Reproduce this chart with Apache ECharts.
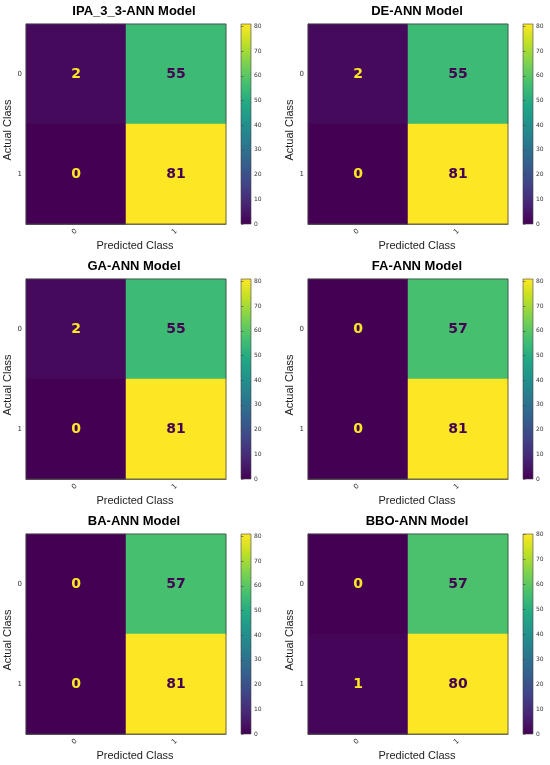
<!DOCTYPE html>
<html>
<head>
<meta charset="utf-8">
<script src="https://cdn.jsdelivr.net/npm/echarts@6/dist/echarts.min.js"></script>
<style>
    html, body {
        margin: 0;
        padding: 0;
        background: #fff;
    }

    #chart {
        width: 550px;
        height: 765px;
    }
</style>
</head>
<body>
<div id="chart"></div>
<script>
    // data
    var modelNames = ['IPA_3_3-ANN Model', 'DE-ANN Model', 'GA-ANN Model', 'FA-ANN Model', 'BA-ANN Model', 'BBO-ANN Model'];
    var classLabels = ['0', '1'];
    // rows = actual class, columns = predicted class
    var ipaMatrix = [[2, 55], [0, 81]];
    var deMatrix = [[2, 55], [0, 81]];
    var gaMatrix = [[2, 55], [0, 81]];
    var faMatrix = [[0, 57], [0, 81]];
    var baMatrix = [[0, 57], [0, 81]];
    var bboMatrix = [[0, 57], [1, 80]];
    var colorbarTicks = [0, 10, 20, 30, 40, 50, 60, 70, 80];

    var matrices = [ipaMatrix, deMatrix, gaMatrix, faMatrix, baMatrix, bboMatrix];

    // viridis
    var viridis = ['#440154', '#482475', '#414487', '#355f8d', '#2a788e', '#21918c',
        '#22a884', '#44bf70', '#7ad151', '#bddf26', '#fde725'];

    // layout
    var colLeft = [26, 308];
    var rowTop = [24, 279, 534];
    var plotSize = 200;
    var cbOffset = 215;
    var cbWidth = 10;
    var titleX = [134, 417];
    var fontSans = 'Liberation Sans';

    var myChart = echarts.init(document.getElementById('chart'));

    var grids = [], xAxes = [], yAxes = [], series = [], visualMaps = [], titles = [];

    var cbStops = viridis.slice().reverse().map(function (c, k) {
      return {offset: k / (viridis.length - 1), color: c};
    });

    matrices.forEach(function (m, i) {
      var col = i % 2;
      var row = Math.floor(i / 2);
      var left = colLeft[col];
      var top = rowTop[row];
      var all = m[0].concat(m[1]);
      var vmax = Math.max.apply(null, all);
      var vmin = Math.min.apply(null, all);
      var thresh = (vmax + vmin) / 2;

      titles.push({
        text: modelNames[i],
        left: titleX[col],
        top: top - 19,
        textAlign: 'center',
        padding: 0,
        textStyle: {fontSize: 13, fontWeight: 'bold', fontFamily: fontSans, color: '#000'}
      });

      // heatmap grid
      grids.push({
        left: left, top: top, width: plotSize, height: plotSize,
        show: true, z: 10,
        backgroundColor: 'transparent',
        borderColor: '#444', borderWidth: 0.8
      });
      // colorbar grid
      grids.push({
        left: left + cbOffset, top: top, width: cbWidth, height: plotSize,
        show: true,
        backgroundColor: {type: 'linear', x: 0, y: 0, x2: 0, y2: 1, colorStops: cbStops},
        borderColor: '#444', borderWidth: 0.6
      });

      xAxes.push({
        gridIndex: 2 * i,
        type: 'category',
        data: classLabels,
        name: 'Predicted Class',
        nameLocation: 'middle',
        nameGap: 16,
        nameTextStyle: {fontSize: 11, fontFamily: fontSans, color: '#222', padding: [0, 0, 0, 18]},
        axisLine: {lineStyle: {color: '#444', width: 0.8}},
        axisTick: {alignWithLabel: true, length: 3, lineStyle: {color: '#444', width: 0.6}},
        axisLabel: {rotate: 45, fontSize: 7, margin: 6, color: '#333', fontFamily: 'DejaVu Sans'},
        splitLine: {show: false}
      });
      xAxes.push({
        gridIndex: 2 * i + 1,
        type: 'value', show: false, min: 0, max: 1
      });

      yAxes.push({
        gridIndex: 2 * i,
        type: 'category',
        data: classLabels,
        inverse: true,
        name: 'Actual Class',
        nameLocation: 'middle',
        nameRotate: 90,
        nameGap: 11,
        nameTextStyle: {fontSize: 11, fontFamily: fontSans, color: '#222', padding: [0, 12, 0, 0]},
        axisLine: {lineStyle: {color: '#444', width: 0.8}},
        axisTick: {alignWithLabel: true, length: 3, lineStyle: {color: '#444', width: 0.6}},
        axisLabel: {fontSize: 7, margin: 4, color: '#333', fontFamily: 'DejaVu Sans'},
        splitLine: {show: false}
      });
      yAxes.push({
        gridIndex: 2 * i + 1,
        type: 'value',
        position: 'right',
        min: vmin, max: vmax,
        axisLine: {show: false},
        axisTick: {show: true, customValues: colorbarTicks, length: 2.5, lineStyle: {color: '#444', width: 0.6}},
        axisLabel: {customValues: colorbarTicks, fontSize: 6, margin: 3, color: '#333', fontFamily: 'DejaVu Sans'},
        splitLine: {show: false}
      });

      var data = [];
      m.forEach(function (r, ri) {
        r.forEach(function (v, ci) {
          data.push({
            value: [ci, ri, v],
            label: {color: v < thresh ? viridis[viridis.length - 1] : viridis[0]}
          });
        });
      });

      series.push({
        type: 'heatmap',
        xAxisIndex: 2 * i,
        yAxisIndex: 2 * i,
        data: data,
        label: {show: true, fontSize: 14, fontWeight: 'bold', fontFamily: 'DejaVu Sans'},
        emphasis: {disabled: true}
      });

      visualMaps.push({
        type: 'continuous',
        show: false,
        seriesIndex: i,
        dimension: 2,
        min: vmin,
        max: vmax,
        inRange: {color: viridis}
      });
    });

    myChart.setOption({
      animation: false,
      title: titles,
      grid: grids,
      xAxis: xAxes,
      yAxis: yAxes,
      visualMap: visualMaps,
      series: series
    });
</script>
</body>
</html>
